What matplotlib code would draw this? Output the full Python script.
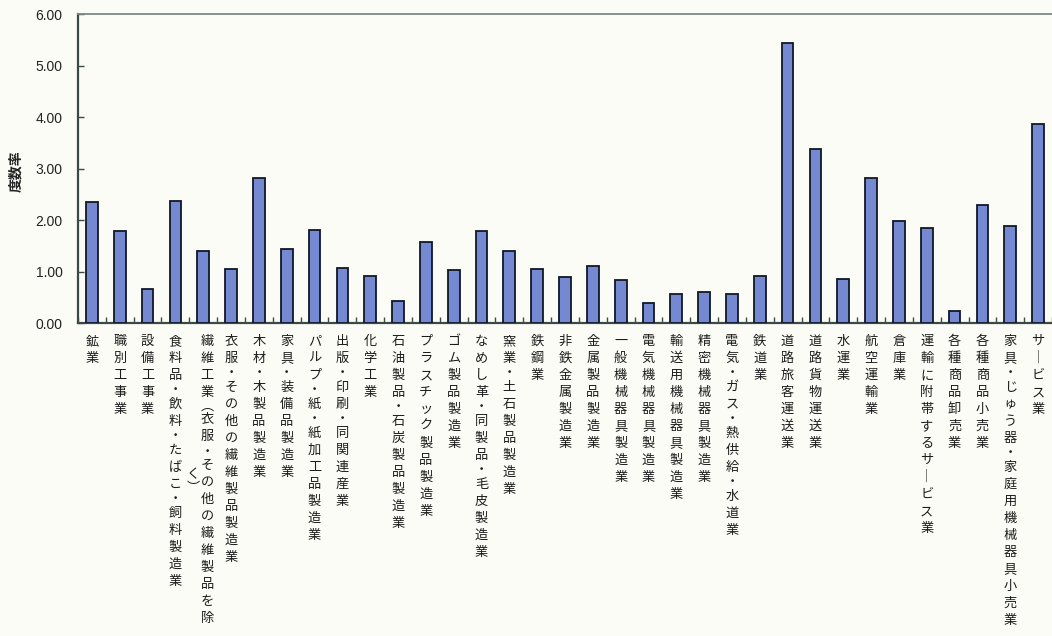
import matplotlib
matplotlib.use("Agg")
import matplotlib.pyplot as plt
import numpy as np

# 業種別 度数率
industries = [
    "鉱業",
    "職別工事業",
    "設備工事業",
    "食料品・飲料・たばこ・飼料製造業",
    "繊維工業︵衣服・その他の繊維製品を除く︶",
    "衣服・その他の繊維製品製造業",
    "木材・木製品製造業",
    "家具・装備品製造業",
    "パルプ・紙・紙加工品製造業",
    "出版・印刷・同関連産業",
    "化学工業",
    "石油製品・石炭製品製造業",
    "プラスチック製品製造業",
    "ゴム製品製造業",
    "なめし革・同製品・毛皮製造業",
    "窯業・土石製品製造業",
    "鉄鋼業",
    "非鉄金属製造業",
    "金属製品製造業",
    "一般機械器具製造業",
    "電気機械器具製造業",
    "輸送用機械器具製造業",
    "精密機械器具製造業",
    "電気・ガス・熱供給・水道業",
    "鉄道業",
    "道路旅客運送業",
    "道路貨物運送業",
    "水運業",
    "航空運輸業",
    "倉庫業",
    "運輸に附帯するサービス業",
    "各種商品卸売業",
    "各種商品小売業",
    "家具・じゅう器・家庭用機械器具小売業",
    "サービス業",
]
frequency_rate = [
    2.34, 1.79, 0.66, 2.36, 1.40, 1.04, 2.82, 1.44, 1.81, 1.07,
    0.91, 0.42, 1.57, 1.02, 1.79, 1.39, 1.04, 0.89, 1.11, 0.83,
    0.38, 0.56, 0.61, 0.57, 0.92, 5.44, 3.38, 0.85, 2.81, 1.99,
    1.84, 0.24, 2.30, 1.88, 3.86,
]
y_ticks = [0, 1, 2, 3, 4, 5, 6]
y_label = "度数率"

BG = "#fcfcf6"
BAR = "#7489d2"
EDGE = "#111826"
SPINE = "#3b4a48"
TEXT = "#1c1c1c"

jp = ["Noto Sans CJK JP", "DejaVu Sans"]

# vertical (tategaki) category labels
CELL_PX = 17.0       # height of one character cell
TOP_GAP_PX = 10.0    # gap between the x axis and the first cell
COL_GAP_PX = 14.0    # distance between wrapped columns
MAX_CELLS = 18       # characters per column before wrapping
PT = 72 / 100        # pixels -> points at 100 dpi


def cell_height(ch):
    if ch == "・":
        return 0.7
    if ch in "︵︶":
        return 0.6
    return 1.0


fig = plt.figure(figsize=(10.52, 6.36), dpi=100, facecolor=BG)
ax = fig.add_axes([78 / 1052, 1 - 323 / 636, 974 / 1052, 309 / 636])
ax.set_facecolor(BG)

x = np.arange(len(industries))
ax.bar(x, frequency_rate, width=0.42, color=BAR, edgecolor=EDGE, linewidth=1.3, zorder=3)

ax.set_xlim(-0.5, len(industries) - 0.5)
ax.set_ylim(0, 6)

ax.set_yticks(y_ticks)
ax.set_yticklabels([f"{v:.2f}" for v in y_ticks], family="Liberation Sans",
                   fontsize=10, color="#222222")
ax.tick_params(axis="y", direction="in", length=4, width=1, color=SPINE, pad=11)

ax.set_xticks([])
ax.set_xticks(np.arange(-0.5, len(industries), 1.0), minor=True)
ax.tick_params(axis="x", which="minor", direction="in", length=4, width=1,
               color=SPINE, labelbottom=False)

for i, label in enumerate(industries):
    label = label.replace("ー", "｜")
    cols = [label[k:k + MAX_CELLS] for k in range(0, len(label), MAX_CELLS)]
    heights = [sum(cell_height(c) for c in col) * CELL_PX for col in cols]
    ncol = len(cols)
    for k, col in enumerate(cols):
        dx = 0.0 if ncol == 1 else (ncol - 1) / 2 * COL_GAP_PX - k * COL_GAP_PX - 3
        y = TOP_GAP_PX + (heights[0] - heights[k]) / 2
        for ch in col:
            h = cell_height(ch) * CELL_PX
            ax.annotate(ch, xy=(i, 0), xycoords=("data", "axes fraction"),
                        xytext=(dx * PT, -(y + h / 2) * PT), textcoords="offset points",
                        ha="center", va="center", fontsize=9.5, family=jp,
                        color=TEXT, annotation_clip=False)
            y += h

for side in ("left", "bottom"):
    ax.spines[side].set_color(SPINE)
    ax.spines[side].set_linewidth(1.6)
ax.spines["top"].set_color("#7f8785")
ax.spines["top"].set_linewidth(1.3)
ax.spines["right"].set_visible(False)

fig.text(16 / 1052, 1 - 171 / 636, y_label, family=jp, fontsize=10, weight="bold",
         rotation=90, ha="center", va="center", color="#222222")

fig.savefig("out.png", dpi=100, facecolor=BG)
